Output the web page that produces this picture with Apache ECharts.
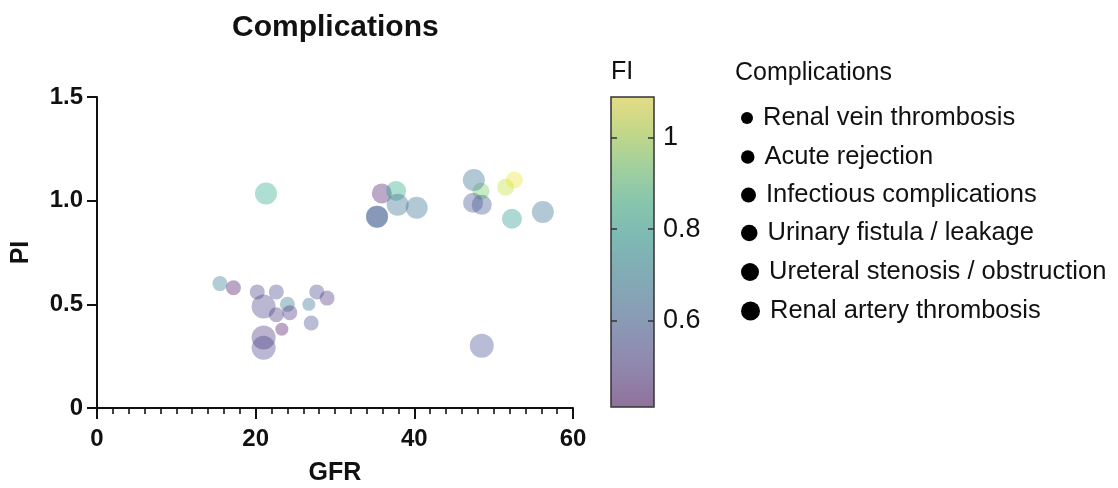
<!DOCTYPE html>
<html>
<head>
<meta charset="utf-8">
<script src="https://cdn.jsdelivr.net/npm/echarts@6/dist/echarts.min.js"></script>
<style>html,body{margin:0;padding:0;background:#fff}#c{width:1118px;height:488px}</style>
</head>
<body>
<div id="c"></div>
<script>
// ---- data ----
const categories = ['Renal vein thrombosis','Acute rejection','Infectious complications','Urinary fistula / leakage','Ureteral stenosis / obstruction','Renal artery thrombosis'];
// [GFR, PI, FI]
const renalVein = [[23.3,0.38,0.44],[26.7,0.50,0.64]];
const acuteRejection = [[15.5,0.60,0.68],[17.2,0.58,0.43],[20.2,0.56,0.53],[22.6,0.56,0.55],[24.0,0.50,0.67],[22.6,0.45,0.51],[24.3,0.46,0.50],[27.7,0.56,0.55],[29.0,0.53,0.50],[27.0,0.41,0.56]];
const infectious = [[48.4,1.045,0.93],[51.5,1.065,1.02],[52.6,1.10,1.07]];
const urinaryFistula = [[35.9,1.035,0.45],[37.7,1.047,0.80],[47.4,0.99,0.57],[48.5,0.98,0.58],[52.3,0.913,0.76]];
const ureteralStenosis = [[21.3,1.035,0.81],[37.9,0.98,0.64],[40.3,0.966,0.64],[35.3,0.923,0.58],[35.3,0.923,0.60],[47.5,1.10,0.64],[56.2,0.945,0.65]];
const renalArtery = [[21.0,0.49,0.53],[21.0,0.34,0.50],[21.0,0.29,0.53],[48.5,0.30,0.56]];
const seriesData = [renalVein, acuteRejection, infectious, urinaryFistula, ureteralStenosis, renalArtery];
const xTicks = [0,20,40,60];
const yTicks = [0,0.5,1.0,1.5];
const fiTicks = [0.6,0.8,1];
const fiRange = [0.41,1.09];

// ---- styles ----
const pointSizes = [13,15,17,20,22,24];
const legendSizes = [12,13.5,15,16.5,18,19];
const legendCenters = [118,157,195,233,272,311];
const viridis = ['#440154','#482878','#3e4989','#31688e','#26828e','#1f9e89','#35b779','#6ece58','#b5de2b','#fde725'];
const alpha = 0.46;
function rgba(h,a){const n=parseInt(h.slice(1),16);return `rgba(${n>>16},${(n>>8)&255},${n&255},${a})`;}
const FONT = 'Liberation Sans, Arial, Helvetica, sans-serif';
const INK = '#111';

const chart = echarts.init(document.getElementById('c'), null, {renderer:'canvas'});

const series = categories.map((name,i)=>({
  name, type:'scatter', xAxisIndex:0, yAxisIndex:0,
  symbol:'circle', symbolSize: pointSizes[i],
  data: seriesData[i],
  itemStyle:{borderWidth:0},
  emphasis:{disabled:true}
}));

const legends = categories.map((name,i)=>({
  data:[name], left:741, top: legendCenters[i]-13, padding:0,
  orient:'vertical', icon:'circle', itemWidth: legendSizes[i], itemHeight: legendSizes[i],
  itemStyle:{color:'#000', opacity:1, borderWidth:0},
  textStyle:{fontFamily:FONT, fontSize:25.5, color:INK, padding:[0,0,0,5]},
  selectedMode:false
}));

chart.setOption({
  animation:false,
  backgroundColor:'#fff',
  title:[
    {text:'Complications', left:232, top:13, padding:0, textStyle:{fontFamily:FONT, fontSize:30, fontWeight:'bold', color:INK}},
    {text:'FI', left:611, top:60, padding:0, textStyle:{fontFamily:FONT, fontSize:25, fontWeight:'normal', color:INK}},
    {text:'Complications', left:735, top:61, padding:0, textStyle:{fontFamily:FONT, fontSize:25, fontWeight:'normal', color:INK}}
  ],
  legend: legends,
  grid:[
    {left:97, top:97, width:476, height:311, containLabel:false, outerBoundsMode:'none'},
    {left:611, top:97, width:43, height:310, show:true, borderColor:'#333', borderWidth:1.5, backgroundColor:'transparent', z:5, outerBoundsMode:'none'}
  ],
  visualMap:{
    type:'continuous', min:fiRange[0], max:fiRange[1], dimension:2, seriesIndex:[0,1,2,3,4,5],
    left:611, top:97, itemWidth:43, itemHeight:310, padding:0, calculable:false, hoverLink:false,
    text:null, showLabel:false, z:1,
    inRange:{color: viridis.map(c=>rgba(c,alpha))}
  },
  xAxis:[
    {gridIndex:0, type:'value', min:0, max:60, interval:20,
     axisLine:{show:true, onZero:false, lineStyle:{color:INK, width:2}},
     axisTick:{show:true, length:11, lineStyle:{color:INK, width:2}},
     minorTick:{show:true, splitNumber:10, length:6, lineStyle:{color:INK, width:1.6}},
     splitLine:{show:false},
     axisLabel:{fontFamily:FONT, fontSize:24, fontWeight:'bold', color:INK, margin:19, formatter:v=>xTicks.includes(v)?String(v):''},
     name:'GFR', nameLocation:'middle', nameGap:53,
     nameTextStyle:{fontFamily:FONT, fontSize:25, fontWeight:'bold', color:INK}},
    {gridIndex:1, type:'value', min:0, max:1, show:false}
  ],
  yAxis:[
    {gridIndex:0, type:'value', min:0, max:1.5, interval:0.5,
     axisLine:{show:true, onZero:false, lineStyle:{color:INK, width:2}},
     axisTick:{show:true, length:10, lineStyle:{color:INK, width:2}},
     splitLine:{show:false},
     axisLabel:{fontFamily:FONT, fontSize:24, fontWeight:'bold', color:INK, margin:14,
       formatter:v=>{const t=yTicks.find(k=>Math.abs(k-v)<1e-9);return t===undefined?'':(t===0?'0':t.toFixed(1));}},
     name:'PI', nameLocation:'middle', nameGap:63, nameRotate:90,
     nameTextStyle:{fontFamily:FONT, fontSize:25, fontWeight:'bold', color:INK}},
    {gridIndex:1, type:'value', min:fiRange[0], max:fiRange[1], position:'left', z:6,
     axisLine:{show:false}, splitLine:{show:false},
     axisTick:{show:true, inside:true, length:6, customValues:fiTicks, lineStyle:{color:'#333', width:1.5}},
     axisLabel:{show:false}},
    {gridIndex:1, type:'value', min:fiRange[0], max:fiRange[1], position:'right', z:6,
     axisLine:{show:false}, splitLine:{show:false},
     axisTick:{show:true, inside:true, length:6, customValues:fiTicks, lineStyle:{color:'#333', width:1.5}},
     axisLabel:{show:true, customValues:fiTicks, inside:false, margin:9, fontFamily:FONT, fontSize:27, color:INK,
       formatter:v=>Math.abs(v-1)<1e-9?'1':v.toFixed(1)}}
  ],
  series
});
</script>
</body>
</html>
